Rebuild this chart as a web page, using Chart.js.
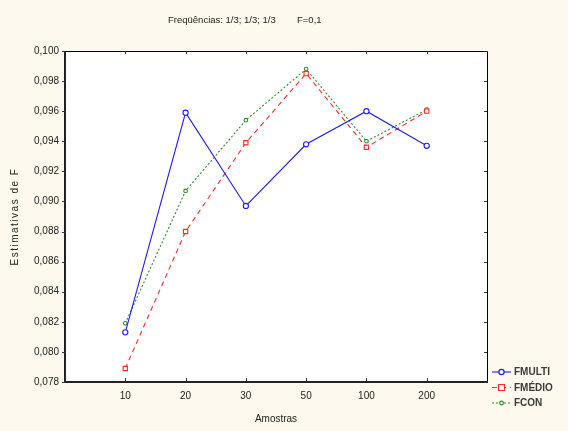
<!DOCTYPE html>
<html>
<head>
<meta charset="utf-8">
<script src="https://cdn.jsdelivr.net/npm/chart.js@4.4.1/dist/chart.umd.min.js"></script>
<style>
    html, body { margin: 0; padding: 0; background: #fdf9ee; }
    #wrap { width: 568px; height: 431px; }
</style>
</head>
<body>
<div id="wrap"><canvas id="chart" width="568" height="431"></canvas></div>
<script>
var categories = ['10', '20', '30', '50', '100', '200'];
var fmulti = [0.0813, 0.0959, 0.0897, 0.0938, 0.0960, 0.0937];
var fmedio = [0.0789, 0.0880, 0.0939, 0.0985, 0.0936, 0.0960];
var fcon = [0.0819, 0.0907, 0.0954, 0.0988, 0.0940, 0.0961];
var yTicks = [0.078, 0.080, 0.082, 0.084, 0.086, 0.088, 0.090, 0.092, 0.094, 0.096, 0.098, 0.100];
var seriesNames = ['FMULTI', 'FMÉDIO', 'FCON'];
var titleLeft = 'Freqüências: 1/3; 1/3; 1/3';
var titleRight = 'F=0,1';
var yTitle = 'Estimativas de F';
var xTitle = 'Amostras';

var FONT = '"Liberation Sans", Arial, sans-serif';

// empty slots at both ends give the spacing the original leaves
function padded(arr) {
    return [null].concat(arr, [null]);
}

function fmt(v) {
    return v.toFixed(3).replace('.', ',');
}

function drawMarker(ctx, style, x, y, r, color) {
    ctx.save();
    ctx.setLineDash([]);
    ctx.lineWidth = 1.2;
    ctx.strokeStyle = color;
    ctx.fillStyle = '#fff';
    ctx.beginPath();
    if (style === 'rect') {
        ctx.rect(x - r, y - r, r * 2, r * 2);
    } else {
        ctx.arc(x, y, r, 0, Math.PI * 2);
    }
    ctx.fill();
    ctx.stroke();
    ctx.restore();
}

var framePlugin = {
    id: 'frame',
    beforeDraw: function (chart) {
        var ctx = chart.ctx, a = chart.chartArea;
        ctx.save();
        ctx.fillStyle = '#fdf9ee';
        ctx.fillRect(0, 0, chart.width, chart.height);
        ctx.fillStyle = '#ffffff';
        ctx.fillRect(a.left, a.top, a.right - a.left, a.bottom - a.top);
        ctx.restore();
    },
    afterDraw: function (chart) {
        var ctx = chart.ctx, a = chart.chartArea;
        var xs = chart.scales.x, ys = chart.scales.y;
        ctx.save();
        // box
        ctx.strokeStyle = '#000';
        ctx.lineWidth = 1;
        ctx.beginPath();
        ctx.moveTo(a.left, a.top + 0.5);
        ctx.lineTo(a.right + 0.5, a.top + 0.5);
        ctx.lineTo(a.right + 0.5, a.bottom);
        ctx.stroke();
        ctx.strokeStyle = '#222';
        ctx.lineWidth = 2;
        ctx.beginPath();
        ctx.moveTo(a.left, a.top);
        ctx.lineTo(a.left, a.bottom);
        ctx.lineTo(a.right + 1, a.bottom);
        ctx.stroke();
        // ticks
        ctx.lineWidth = 1;
        ctx.strokeStyle = '#333';
        ctx.beginPath();
        for (var i = 1; i <= categories.length; i++) {
            var px = Math.round(xs.getPixelForTick(i)) + 0.5;
            ctx.moveTo(px, a.top);
            ctx.lineTo(px, a.top + 3);
            ctx.moveTo(px, a.bottom - 1);
            ctx.lineTo(px, a.bottom - 4);
        }
        yTicks.forEach(function (v) {
            var py = Math.round(ys.getPixelForValue(v)) + 0.5;
            ctx.moveTo(a.left - 3, py);
            ctx.lineTo(a.left, py);
            ctx.moveTo(a.right, py);
            ctx.lineTo(a.right - 3, py);
        });
        ctx.stroke();

        // title
        ctx.fillStyle = '#222';
        ctx.font = '9.5px ' + FONT;
        ctx.textBaseline = 'middle';
        ctx.textAlign = 'left';
        ctx.fillText(titleLeft, 168, 20);
        ctx.fillText(titleRight, 297, 20);

        // y axis title
        ctx.save();
        ctx.translate(15, (a.top + a.bottom) / 2);
        ctx.rotate(-Math.PI / 2);
        ctx.textAlign = 'center';
        ctx.font = '10px ' + FONT;
        ctx.letterSpacing = '1.5px';
        ctx.fillText(yTitle, 0, 0);
        ctx.restore();

        // legend
        chart.data.datasets.forEach(function (ds, i) {
            var ly = 372 + i * 15.5;
            ctx.save();
            ctx.strokeStyle = ds.borderColor;
            ctx.lineWidth = ds.borderWidth;
            ctx.setLineDash(ds.borderDash || []);
            ctx.beginPath();
            ctx.moveTo(492, ly);
            ctx.lineTo(511, ly);
            ctx.stroke();
            ctx.restore();
            drawMarker(ctx, ds.pointStyle, 501.5, ly, ds.pointRadius, ds.borderColor);
            ctx.fillStyle = '#3a3a3a';
            ctx.font = 'bold 10px ' + FONT;
            ctx.textAlign = 'left';
            ctx.textBaseline = 'middle';
            ctx.fillText(ds.label, 514, ly + 0.5);
        });
        ctx.restore();
    }
};

var ctx = document.getElementById('chart').getContext('2d');
new Chart(ctx, {
    type: 'line',
    data: {
        labels: [''].concat(categories, ['']),
        datasets: [{
            label: seriesNames[0],
            data: padded(fmulti),
            borderColor: '#1c1cf5',
            borderWidth: 1.1,
            pointStyle: 'circle',
            pointRadius: 2.6,
            pointBackgroundColor: '#fff',
            pointBorderColor: '#1c1cf5',
            pointBorderWidth: 1.1,
            tension: 0
        }, {
            label: seriesNames[1],
            data: padded(fmedio),
            borderColor: '#ff2a2a',
            borderWidth: 1.1,
            borderDash: [5, 4],
            pointStyle: 'rect',
            pointRadius: 3,
            pointBackgroundColor: '#fff',
            pointBorderColor: '#ff2a2a',
            pointBorderWidth: 1.1,
            tension: 0
        }, {
            label: seriesNames[2],
            data: padded(fcon),
            borderColor: '#2e8b2e',
            borderWidth: 1.1,
            borderDash: [2, 2],
            pointStyle: 'circle',
            pointRadius: 1.8,
            pointBackgroundColor: '#fff',
            pointBorderColor: '#2e8b2e',
            pointBorderWidth: 1.1,
            tension: 0
        }]
    },
    options: {
        responsive: false,
        animation: false,
        devicePixelRatio: 1,
        layout: { padding: { top: 51, right: 81, left: 0, bottom: 0 } },
        plugins: {
            legend: { display: false },
            title: { display: false },
            tooltip: { enabled: false }
        },
        scales: {
            x: {
                type: 'category',
                offset: false,
                grid: { display: false, drawTicks: false },
                border: { display: false },
                ticks: {
                    autoSkip: false,
                    maxRotation: 0,
                    padding: 8,
                    color: '#222',
                    font: { family: FONT, size: 10 }
                },
                title: {
                    display: true,
                    text: xTitle,
                    color: '#222',
                    font: { family: FONT, size: 10 },
                    padding: { top: 0, bottom: 6 }
                },
                afterFit: function (s) { s.height = 49; }
            },
            y: {
                min: 0.078,
                max: 0.100,
                grid: { display: false, drawTicks: false },
                border: { display: false },
                afterBuildTicks: function (s) {
                    s.ticks = yTicks.map(function (v) { return { value: v }; });
                },
                ticks: {
                    padding: 6,
                    color: '#222',
                    font: { family: FONT, size: 10 },
                    callback: function (v) { return fmt(v); }
                },
                afterFit: function (s) { s.width = 65; }
            }
        }
    },
    plugins: [framePlugin]
});
</script>
</body>
</html>
